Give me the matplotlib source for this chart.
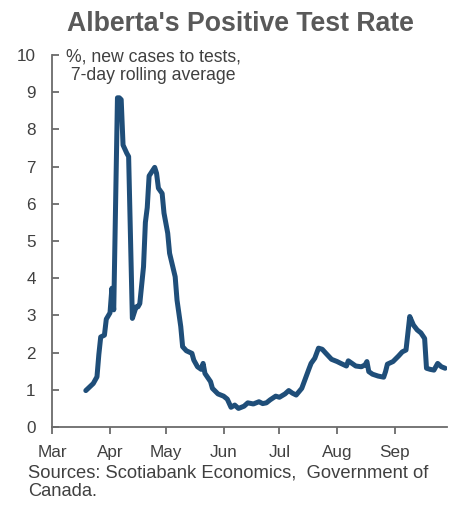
import pandas as pd
import matplotlib
matplotlib.use("Agg")
import matplotlib.pyplot as plt
import matplotlib.dates as mdates

plt.rcParams['font.family'] = ['Liberation Sans', 'DejaVu Sans']

# 7-day rolling positive test rate, Alberta (%)
dates = [
    "2020-03-19", "2020-03-23", "2020-03-25", "2020-03-26", "2020-03-27",
    "2020-03-29", "2020-03-30", "2020-04-01", "2020-04-02", "2020-04-03",
    "2020-04-05", "2020-04-06", "2020-04-07", "2020-04-08", "2020-04-10",
    "2020-04-11", "2020-04-13", "2020-04-15", "2020-04-16", "2020-04-17",
    "2020-04-19", "2020-04-20", "2020-04-21", "2020-04-22", "2020-04-25",
    "2020-04-26", "2020-04-27", "2020-04-29", "2020-04-30", "2020-05-02",
    "2020-05-03", "2020-05-06", "2020-05-07", "2020-05-09", "2020-05-10",
    "2020-05-12", "2020-05-15", "2020-05-16", "2020-05-18", "2020-05-20",
    "2020-05-21", "2020-05-22", "2020-05-25", "2020-05-26", "2020-05-29",
    "2020-06-01", "2020-06-03", "2020-06-05", "2020-06-07", "2020-06-09",
    "2020-06-12", "2020-06-14", "2020-06-17", "2020-06-20", "2020-06-22",
    "2020-06-24", "2020-06-26", "2020-06-29", "2020-07-01", "2020-07-04",
    "2020-07-06", "2020-07-08", "2020-07-10", "2020-07-12", "2020-07-13",
    "2020-07-15", "2020-07-17", "2020-07-18", "2020-07-20", "2020-07-22",
    "2020-07-24", "2020-07-26", "2020-07-29", "2020-08-01", "2020-08-03",
    "2020-08-06", "2020-08-07", "2020-08-09", "2020-08-11", "2020-08-14",
    "2020-08-16", "2020-08-17", "2020-08-18", "2020-08-20", "2020-08-23",
    "2020-08-26", "2020-08-27", "2020-08-28", "2020-08-31", "2020-09-03",
    "2020-09-05", "2020-09-07", "2020-09-09", "2020-09-11", "2020-09-13",
    "2020-09-15", "2020-09-17", "2020-09-18", "2020-09-20", "2020-09-22",
    "2020-09-24", "2020-09-26", "2020-09-28",
]
rate = [
    0.98, 1.17, 1.35, 1.95, 2.42,
    2.47, 2.90, 3.07, 3.73, 3.15,
    8.85, 8.85, 8.80, 7.58, 7.36,
    7.27, 2.92, 3.23, 3.23, 3.32,
    4.31, 5.50, 5.90, 6.75, 6.98,
    6.82, 6.42, 6.28, 5.75, 5.21,
    4.67, 4.04, 3.41, 2.70, 2.16,
    2.05, 1.98, 1.80, 1.62, 1.55,
    1.71, 1.44, 1.22, 1.04, 0.89,
    0.83, 0.75, 0.53, 0.59, 0.50,
    0.56, 0.65, 0.62, 0.68, 0.63,
    0.65, 0.73, 0.83, 0.80, 0.89,
    0.98, 0.91, 0.86, 0.98, 1.04,
    1.31, 1.58, 1.71, 1.85, 2.12,
    2.09, 1.98, 1.82, 1.76, 1.71,
    1.64, 1.78, 1.71, 1.64, 1.62,
    1.67, 1.76, 1.49, 1.42, 1.37,
    1.34, 1.49, 1.69, 1.76, 1.91,
    2.02, 2.07, 2.97, 2.74, 2.61,
    2.53, 2.38, 1.58, 1.55, 1.53,
    1.71, 1.62, 1.58,
]

title = "Alberta's Positive Test Rate"
note_lines = ["%, new cases to tests,", " 7-day rolling average"]
source_lines = ["Sources: Scotiabank Economics,  Government of", "Canada."]

line_color = "#1f4e79"
axis_color = "#6b6b6b"
text_color = "#404040"

fig = plt.figure(figsize=(4.56, 5.08), dpi=100)
ax = fig.add_axes([0.1147, 0.1594, 0.8655, 0.7323])

x = pd.to_datetime(dates)
ax.plot(x, rate, color=line_color, lw=3.6, solid_joinstyle='round',
        solid_capstyle='round')

start = mdates.date2num(pd.Timestamp("2020-03-01"))
ax.set_xlim(start, start + 212)
ax.set_ylim(0, 10)
ax.set_yticks(range(0, 11))

ax.xaxis.set_major_locator(mdates.MonthLocator())
ax.xaxis.set_major_formatter(mdates.DateFormatter('%b'))

for side in ('top', 'right'):
    ax.spines[side].set_visible(False)
for side in ('left', 'bottom'):
    ax.spines[side].set_color(axis_color)
    ax.spines[side].set_linewidth(1.3)

ax.tick_params(axis='y', direction='in', length=5, width=1.3,
               color=axis_color, labelsize=12.3, labelcolor=text_color, pad=12)
ax.tick_params(axis='x', direction='out', length=5, width=1.3,
               color=axis_color, labelsize=12.3, labelcolor=text_color, pad=8)

fig.text(0.528, 1 - 31 / 508, title, ha='center', va='baseline',
         fontsize=19.2, fontweight='bold', color="#595959")

for i, s in enumerate(note_lines):
    fig.text(66 / 456, 1 - (62 + 18.5 * i) / 508, s, ha='left',
             va='baseline', fontsize=12.7, color=text_color)

for i, s in enumerate(source_lines):
    fig.text(28 / 456, 1 - (477 + 19 * i) / 508, s, ha='left',
             va='baseline', fontsize=13.2, color=text_color)

fig.savefig("out.png", dpi=100)
